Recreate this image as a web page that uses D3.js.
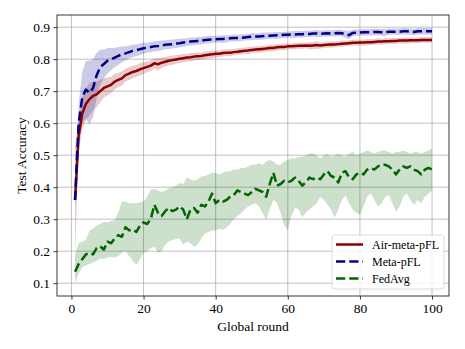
<!DOCTYPE html>
<html>
<head>
<meta charset="utf-8">
<script src="https://cdn.jsdelivr.net/npm/d3@7"></script>
<style>
  body { margin: 0; background: #fff; }
  svg { display: block; font-family: "Liberation Serif", "DejaVu Serif", serif; }
</style>
</head>
<body>
<svg id="chart" width="465" height="349"></svg>
<script>
// rounds 1..100
const rounds = d3.range(1, 101);

const seriesNames = ["Air-meta-pFL", "Meta-pFL", "FedAvg"];
const xTicks = [0, 20, 40, 60, 80, 100];
const yTicks = [0.1, 0.2, 0.3, 0.4, 0.5, 0.6, 0.7, 0.8, 0.9];

// Air-meta-pFL mean and band half-width
const airMean = [
  0.36, 0.56, 0.63, 0.66, 0.675, 0.685, 0.69, 0.70, 0.71, 0.715,
  0.72, 0.73, 0.735, 0.74, 0.75, 0.755, 0.76, 0.763, 0.768, 0.772,
  0.776, 0.78, 0.787, 0.784, 0.789, 0.792, 0.795, 0.797, 0.799, 0.801,
  0.803, 0.805, 0.806, 0.808, 0.809, 0.81, 0.812, 0.814, 0.815, 0.817,
  0.817, 0.819, 0.82, 0.82, 0.822, 0.823, 0.825, 0.826, 0.827, 0.829,
  0.83, 0.831, 0.832, 0.833, 0.835, 0.835, 0.837, 0.838, 0.838, 0.84,
  0.84, 0.841, 0.842, 0.842, 0.843, 0.842, 0.843, 0.844, 0.843, 0.844,
  0.845, 0.846, 0.846, 0.847, 0.848, 0.849, 0.85, 0.851, 0.851, 0.852,
  0.852, 0.853, 0.853, 0.854, 0.855, 0.855, 0.856, 0.856, 0.857, 0.857,
  0.858, 0.858, 0.858, 0.859, 0.859, 0.859, 0.86, 0.86, 0.86, 0.86
];
const airSpread = [
  0.17, 0.05, 0.05, 0.05, 0.05, 0.045, 0.04, 0.035, 0.03, 0.028,
  0.025, 0.025, 0.022, 0.022, 0.02, 0.02, 0.02, 0.018, 0.02, 0.018,
  0.017, 0.017, 0.016, 0.02, 0.016, 0.015, 0.014, 0.015, 0.013, 0.014,
  0.013, 0.012, 0.013, 0.012, 0.012, 0.011, 0.012, 0.011, 0.012, 0.011,
  0.01, 0.011, 0.01, 0.012, 0.01, 0.011, 0.01, 0.01, 0.011, 0.01,
  0.01, 0.011, 0.01, 0.01, 0.011, 0.01, 0.01, 0.009, 0.01, 0.01,
  0.009, 0.01, 0.009, 0.01, 0.009, 0.012, 0.011, 0.012, 0.01, 0.009,
  0.009, 0.01, 0.009, 0.009, 0.01, 0.009, 0.009, 0.01, 0.009, 0.009,
  0.009, 0.01, 0.009, 0.009, 0.01, 0.009, 0.009, 0.009, 0.01, 0.009,
  0.009, 0.009, 0.01, 0.009, 0.009, 0.009, 0.009, 0.009, 0.009, 0.009
];

// Meta-pFL mean and band half-width
const metaMean = [
  0.36, 0.60, 0.68, 0.705, 0.695, 0.71, 0.75, 0.775, 0.785, 0.795,
  0.80, 0.805, 0.81, 0.815, 0.818, 0.822, 0.826, 0.828, 0.831, 0.834,
  0.836, 0.838, 0.84, 0.841, 0.843, 0.845, 0.846, 0.847, 0.849, 0.85,
  0.852, 0.853, 0.855, 0.856, 0.857, 0.858, 0.86, 0.861, 0.862, 0.862,
  0.863, 0.863, 0.864, 0.865, 0.866, 0.866, 0.867, 0.868, 0.869, 0.87,
  0.871, 0.871, 0.872, 0.873, 0.873, 0.874, 0.875, 0.875, 0.876, 0.876,
  0.877, 0.877, 0.878, 0.878, 0.879, 0.879, 0.88, 0.88, 0.879, 0.88,
  0.881, 0.88, 0.881, 0.882, 0.881, 0.878, 0.875, 0.882, 0.883, 0.883,
  0.884, 0.884, 0.884, 0.885, 0.885, 0.884, 0.883, 0.886, 0.886, 0.886,
  0.886, 0.887, 0.887, 0.886, 0.885, 0.887, 0.887, 0.887, 0.887, 0.887
];
const metaSpread = [
  0.03, 0.06, 0.08, 0.09, 0.10, 0.09, 0.07, 0.055, 0.045, 0.04,
  0.035, 0.03, 0.028, 0.025, 0.022, 0.02, 0.02, 0.018, 0.018, 0.017,
  0.016, 0.016, 0.015, 0.016, 0.015, 0.014, 0.015, 0.014, 0.014, 0.013,
  0.013, 0.012, 0.013, 0.012, 0.012, 0.012, 0.011, 0.012, 0.011, 0.011,
  0.011, 0.012, 0.011, 0.01, 0.011, 0.01, 0.011, 0.01, 0.01, 0.011,
  0.01, 0.01, 0.011, 0.01, 0.01, 0.01, 0.011, 0.01, 0.01, 0.01,
  0.01, 0.011, 0.01, 0.01, 0.01, 0.01, 0.01, 0.011, 0.01, 0.01,
  0.01, 0.01, 0.01, 0.01, 0.01, 0.012, 0.012, 0.01, 0.01, 0.01,
  0.01, 0.01, 0.01, 0.01, 0.01, 0.01, 0.011, 0.01, 0.01, 0.01,
  0.01, 0.01, 0.01, 0.01, 0.01, 0.01, 0.01, 0.01, 0.01, 0.01
];

// FedAvg mean, band lower and upper
const fedMean = [
  0.136, 0.16, 0.175, 0.19, 0.195, 0.19, 0.21, 0.215, 0.205, 0.23,
  0.225, 0.24, 0.25, 0.245, 0.275, 0.265, 0.268, 0.26, 0.28, 0.29,
  0.285, 0.30, 0.345, 0.32, 0.31, 0.325, 0.335, 0.325, 0.33, 0.34,
  0.33, 0.30, 0.33, 0.335, 0.32, 0.345, 0.34, 0.355, 0.38, 0.35,
  0.36, 0.355, 0.36, 0.37, 0.375, 0.39, 0.385, 0.38, 0.375, 0.385,
  0.395, 0.39, 0.385, 0.37, 0.41, 0.445, 0.405, 0.41, 0.42, 0.415,
  0.42, 0.43, 0.42, 0.405, 0.415, 0.43, 0.425, 0.43, 0.425, 0.44,
  0.45, 0.435, 0.43, 0.415, 0.445, 0.45, 0.43, 0.425, 0.44, 0.445,
  0.44, 0.455, 0.46, 0.455, 0.465, 0.47, 0.47, 0.465, 0.455, 0.44,
  0.455, 0.465, 0.46, 0.465, 0.455, 0.45, 0.44, 0.455, 0.46, 0.455
];
const fedLow = [
  0.10, 0.13, 0.15, 0.155, 0.16, 0.165, 0.17, 0.178, 0.175, 0.18,
  0.182, 0.18, 0.185, 0.195, 0.20, 0.185, 0.17, 0.157, 0.175, 0.194,
  0.20, 0.209, 0.215, 0.195, 0.20, 0.22, 0.23, 0.235, 0.238, 0.24,
  0.22, 0.23, 0.225, 0.214, 0.22, 0.24, 0.255, 0.26, 0.265, 0.265,
  0.27, 0.268, 0.273, 0.285, 0.30, 0.31, 0.318, 0.33, 0.34, 0.345,
  0.35, 0.34, 0.32, 0.298, 0.33, 0.36, 0.35, 0.32, 0.28, 0.267,
  0.31, 0.336, 0.33, 0.306, 0.32, 0.33, 0.34, 0.35, 0.37, 0.36,
  0.345, 0.33, 0.305, 0.33, 0.36, 0.375, 0.35, 0.33, 0.32, 0.314,
  0.34, 0.37, 0.38, 0.36, 0.34, 0.35, 0.37, 0.375, 0.35, 0.323,
  0.34, 0.37, 0.38, 0.36, 0.345, 0.36, 0.35, 0.37, 0.38, 0.39
];
const fedHigh = [
  0.19, 0.225, 0.23, 0.235, 0.265, 0.27, 0.28, 0.285, 0.292, 0.29,
  0.295, 0.297, 0.32, 0.355, 0.355, 0.35, 0.35, 0.35, 0.353, 0.355,
  0.37, 0.392, 0.395, 0.39, 0.385, 0.39, 0.397, 0.40, 0.405, 0.413,
  0.41, 0.43, 0.425, 0.42, 0.425, 0.433, 0.435, 0.44, 0.445, 0.444,
  0.44, 0.445, 0.45, 0.45, 0.455, 0.455, 0.46, 0.46, 0.465, 0.47,
  0.47, 0.475, 0.47, 0.48, 0.485, 0.48, 0.47, 0.47, 0.48, 0.485,
  0.49, 0.49, 0.495, 0.495, 0.50, 0.505, 0.506, 0.50, 0.49, 0.50,
  0.505, 0.495, 0.50, 0.505, 0.50, 0.495, 0.505, 0.51, 0.50, 0.505,
  0.51, 0.515, 0.51, 0.505, 0.51, 0.515, 0.515, 0.51, 0.505, 0.51,
  0.51, 0.515, 0.51, 0.505, 0.51, 0.51, 0.505, 0.51, 0.515, 0.52
];

const colors = ["#8b0000", "#00008b", "#006400"];

const PLOT = { left: 57, right: 449, top: 15, bottom: 296 };

const svg = d3.select("#chart");

const x = d3.scaleLinear().domain([-4, 104.7]).range([PLOT.left, PLOT.right]);
const y = d3.scaleLinear().domain([0.06, 0.938]).range([PLOT.bottom, PLOT.top]);

svg.append("defs").append("clipPath").attr("id", "plotclip")
  .append("rect")
  .attr("x", PLOT.left).attr("y", PLOT.top)
  .attr("width", PLOT.right - PLOT.left).attr("height", PLOT.bottom - PLOT.top);

// grid
const grid = svg.append("g");
grid.selectAll(".gx").data(xTicks).enter().append("line")
  .attr("x1", d => x(d)).attr("x2", d => x(d))
  .attr("y1", PLOT.top).attr("y2", PLOT.bottom)
  .attr("stroke", "#b0b0b0").attr("stroke-width", 0.8);
grid.selectAll(".gy").data(yTicks).enter().append("line")
  .attr("x1", PLOT.left).attr("x2", PLOT.right)
  .attr("y1", d => y(d)).attr("y2", d => y(d))
  .attr("stroke", "#b0b0b0").attr("stroke-width", 0.8);

const series = [
  { name: seriesNames[0], mean: airMean, lo: airMean.map((v, i) => v - airSpread[i]), hi: airMean.map((v, i) => v + airSpread[i]), color: colors[0], dash: null },
  { name: seriesNames[1], mean: metaMean, lo: metaMean.map((v, i) => v - metaSpread[i]), hi: metaMean.map((v, i) => v + metaSpread[i]), color: colors[1], dash: "9.25,4" },
  { name: seriesNames[2], mean: fedMean, lo: fedLow, hi: fedHigh, color: colors[2], dash: "9.25,4" }
];

const plot = svg.append("g").attr("clip-path", "url(#plotclip)");

const area = d3.area()
  .x((d, i) => x(rounds[i]))
  .y0(d => y(d[0]))
  .y1(d => y(d[1]));

const line = d3.line()
  .x((d, i) => x(rounds[i]))
  .y(d => y(d));

series.forEach(s => {
  plot.append("path")
    .datum(s.lo.map((v, i) => [v, s.hi[i]]))
    .attr("d", area)
    .attr("fill", s.color)
    .attr("fill-opacity", 0.2);
});

series.forEach(s => {
  plot.append("path")
    .datum(s.mean)
    .attr("d", line)
    .attr("fill", "none")
    .attr("stroke", s.color)
    .attr("stroke-width", 2.5)
    .attr("stroke-dasharray", s.dash)
    .attr("stroke-linejoin", "round");
});

// axes
const xAxis = svg.append("g")
  .attr("transform", `translate(0,${PLOT.bottom})`)
  .call(d3.axisBottom(x).tickValues(xTicks).tickSize(3.5).tickPadding(3.5).tickFormat(d3.format("d")));
const yAxis = svg.append("g")
  .attr("transform", `translate(${PLOT.left},0)`)
  .call(d3.axisLeft(y).tickValues(yTicks).tickSize(3.5).tickPadding(3.5).tickFormat(d3.format(".1f")));

[xAxis, yAxis].forEach(a => {
  a.select(".domain").remove();
  a.selectAll(".tick line").attr("stroke", "#000").attr("stroke-width", 0.8);
  a.selectAll(".tick text")
    .attr("fill", "#000")
    .style("font-family", "'Liberation Serif', 'DejaVu Serif', serif")
    .style("font-size", "13.5px");
});

// frame
svg.append("rect")
  .attr("x", PLOT.left).attr("y", PLOT.top)
  .attr("width", PLOT.right - PLOT.left).attr("height", PLOT.bottom - PLOT.top)
  .attr("fill", "none").attr("stroke", "#222").attr("stroke-width", 0.9);

// labels
svg.append("text")
  .attr("x", (PLOT.left + PLOT.right) / 2).attr("y", 331)
  .attr("text-anchor", "middle")
  .style("font-size", "13.5px")
  .text("Global round");

svg.append("text")
  .attr("transform", `translate(26,${(PLOT.top + PLOT.bottom) / 2}) rotate(-90)`)
  .attr("text-anchor", "middle")
  .style("font-size", "13.5px")
  .text("Test Accuracy");

// legend
const legend = svg.append("g").attr("transform", "translate(332,235)");
legend.append("rect")
  .attr("x", 0).attr("y", 0).attr("width", 112).attr("height", 54)
  .attr("rx", 3)
  .attr("fill", "#fff").attr("fill-opacity", 0.8)
  .attr("stroke", "#d0d0d0").attr("stroke-width", 0.8);

series.forEach((s, i) => {
  const row = legend.append("g").attr("transform", `translate(0,${9.5 + i * 17})`);
  row.append("line")
    .attr("x1", 4).attr("x2", 31)
    .attr("y1", 0).attr("y2", 0)
    .attr("stroke", s.color).attr("stroke-width", 2.5)
    .attr("stroke-dasharray", s.dash);
  row.append("text")
    .attr("x", 40).attr("y", 0).attr("dy", "0.35em")
    .style("font-size", "12px")
    .text(s.name);
});
</script>
</body>
</html>
